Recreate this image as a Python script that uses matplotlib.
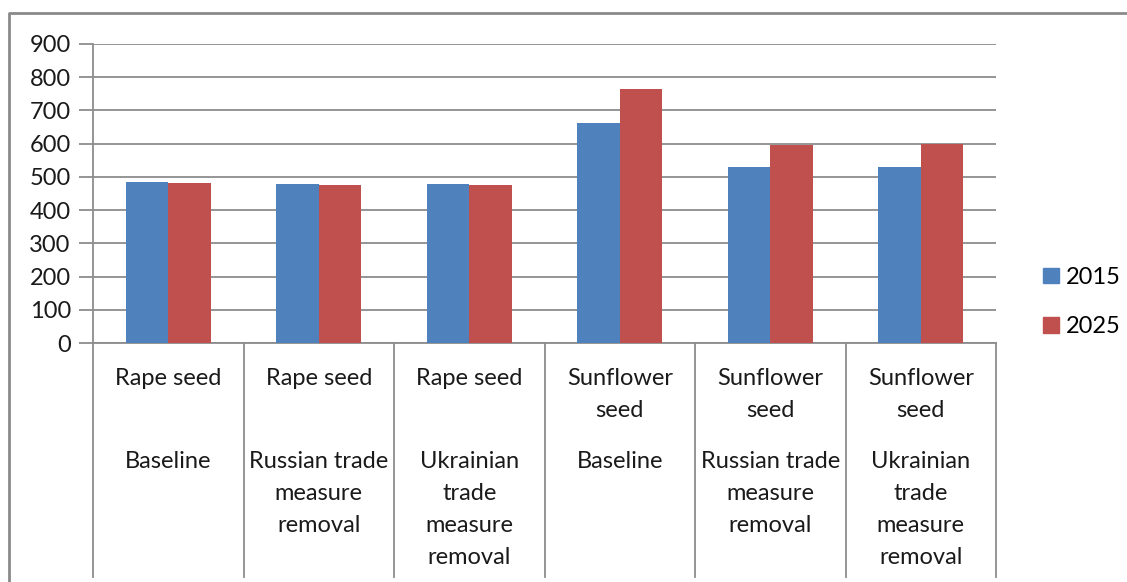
import matplotlib
matplotlib.use("Agg")
import matplotlib.pyplot as plt
import numpy as np
from matplotlib import transforms
from matplotlib.lines import Line2D
from matplotlib.patches import Patch

crops = ["Rape seed", "Rape seed", "Rape seed",
         "Sunflower\nseed", "Sunflower\nseed", "Sunflower\nseed"]
scenarios = ["Baseline", "Russian trade\nmeasure\nremoval", "Ukrainian\ntrade\nmeasure\nremoval",
             "Baseline", "Russian trade\nmeasure\nremoval", "Ukrainian\ntrade\nmeasure\nremoval"]
years = ["2015", "2025"]
v2015 = [486, 479, 479, 662, 530, 530]
v2025 = [482, 475, 475, 766, 596, 599]
yticks = [0, 100, 200, 300, 400, 500, 600, 700, 800, 900]

plt.rcParams['font.family'] = ['Lato', 'DejaVu Sans']
W, H = 1127, 582
fig = plt.figure(figsize=(W / 100, H / 100), dpi=100)
# axes box in pixels: x 93..996, y 44..343
ax = fig.add_axes([93 / W, 1 - 343 / H, (996 - 93) / W, (343 - 44) / H])

x = np.arange(len(crops))
w = 0.282
c1, c2 = "#4F81BD", "#C0504D"
ax.bar(x - w / 2, v2015, w, color=c1, zorder=3)
ax.bar(x + w / 2, v2025, w, color=c2, zorder=3)

ax.set_xlim(-0.5, len(crops) - 0.5)
ax.set_ylim(0, 900)
ax.set_yticks(yticks)
ax.set_yticklabels([str(t) for t in yticks], fontsize=17, color="#1a1a1a")
ax.set_xticks([])
ax.tick_params(axis="y", length=10, width=1.3, color="#8c8c8c", pad=6)
ax.grid(axis="y", color="#8c8c8c", linewidth=1.3, zorder=0)
for s in ["top", "right"]:
    ax.spines[s].set_visible(False)
ax.spines["left"].set_color("#8c8c8c")
ax.spines["left"].set_linewidth(1.3)
ax.spines["bottom"].set_color("#8c8c8c")
ax.spines["bottom"].set_linewidth(1.3)

# category separators and labels below the axis
tr = transforms.blended_transform_factory(ax.transData, fig.transFigure)
for b in np.arange(-0.5, len(crops), 1.0):
    fig.add_artist(Line2D([b, b], [1 - 343 / H, 1 - 577 / H], transform=tr,
                          color="#8c8c8c", linewidth=1.3))
for i in range(len(crops)):
    fig.text(i, 1 - 368 / H, crops[i], transform=tr, ha="center", va="top",
             fontsize=17, color="#1a1a1a", linespacing=1.65)
    fig.text(i, 1 - 451 / H, scenarios[i], transform=tr, ha="center", va="top",
             fontsize=17, color="#1a1a1a", linespacing=1.65)

# outer chart border (left and top)
fig.add_artist(Line2D([9 / W, 9 / W, 1.0], [0.0, 1 - 13 / H, 1 - 13 / H],
                      transform=fig.transFigure, color="#8a8a8a", linewidth=2))

handles = [Patch(color=c1), Patch(color=c2)]
fig.legend(handles, years, loc="center left", bbox_to_anchor=(1022 / W, 1 - 302 / H),
           frameon=False, fontsize=17, handlelength=0.65, handleheight=0.65,
           handletextpad=0.3, labelspacing=1.2)

fig.savefig("out.png", dpi=100)
